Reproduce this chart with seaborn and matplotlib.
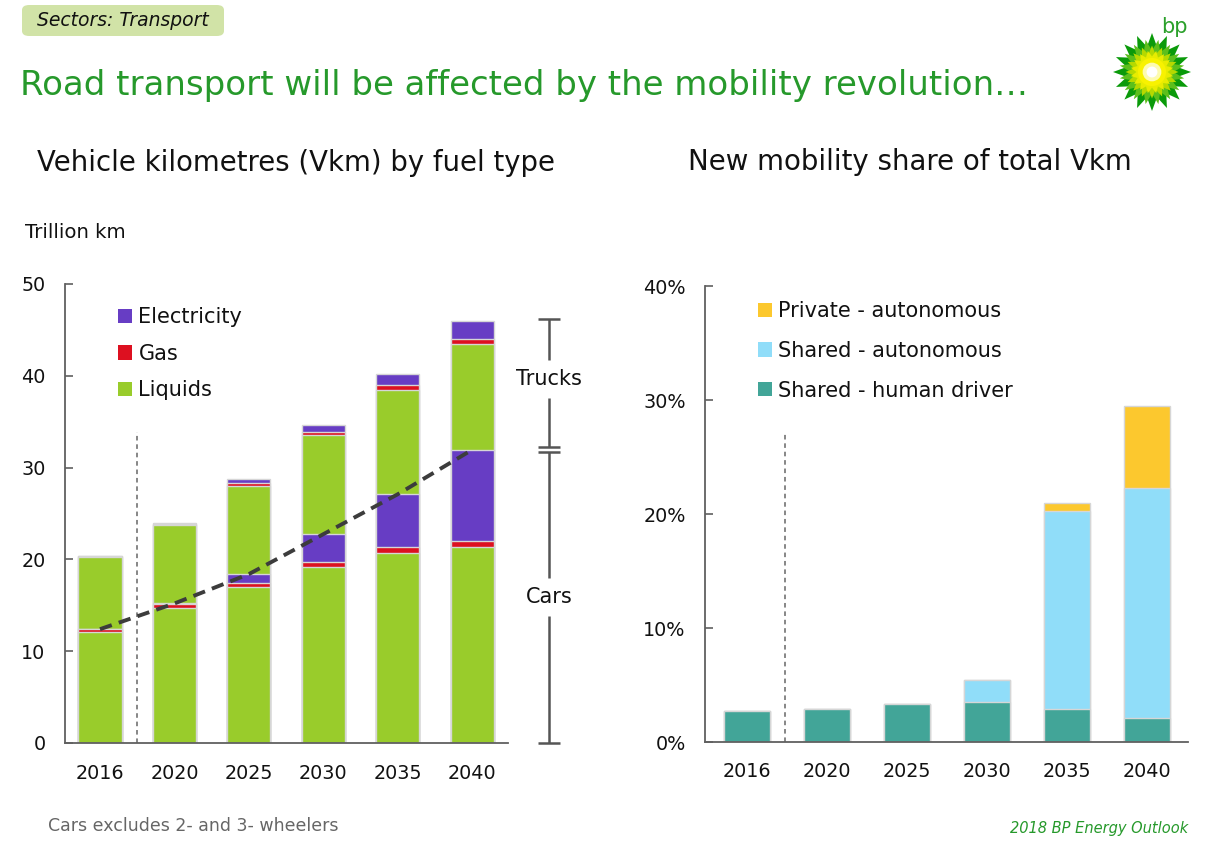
import numpy as np
import pandas as pd
import matplotlib
matplotlib.use('Agg')
import matplotlib.pyplot as plt
import seaborn as sns
from matplotlib.patches import Patch, FancyBboxPatch, Circle

# ---------------- data ----------------
years = ['2016', '2020', '2025', '2030', '2035', '2040']

# Vehicle km, trillion km
cars_liquids = [12.1, 14.7, 16.95, 19.2, 20.7, 21.4]
cars_gas = [0.3, 0.4, 0.5, 0.55, 0.6, 0.65]
cars_elec = [0.0, 0.1, 0.95, 3.0, 5.8, 9.9]
trucks_liquids = [7.85, 8.6, 9.6, 10.75, 11.4, 11.55]
trucks_gas = [0.1, 0.1, 0.35, 0.35, 0.45, 0.5]
trucks_elec = [0.05, 0.1, 0.45, 0.75, 1.25, 2.0]

# New mobility share of total Vkm, %
share_human = [2.75, 2.9, 3.35, 3.55, 2.9, 2.15]
share_shared_auto = [0, 0, 0, 1.9, 17.4, 20.15]
share_private_auto = [0, 0, 0, 0, 0.7, 7.2]

left_yticks = [0, 10, 20, 30, 40, 50]
right_yticks = [0, 10, 20, 30, 40]
right_yticklabels = ['0%', '10%', '20%', '30%', '40%']

left_legend = ['Electricity', 'Gas', 'Liquids']
right_legend = ['Private - autonomous', 'Shared - autonomous', 'Shared - human driver']

# ---------------- style ----------------
C_LIQ = '#99cc2b'
C_GAS = '#dd1020'
C_ELEC = '#673dc4'
C_HUMAN = '#42a598'
C_SHARED = '#90ddf9'
C_PRIV = '#fcc82e'
EDGE = '#d6d6d6'
SPINE = '#606060'
GREEN_TXT = '#26992b'
TXT = '#111111'

sns.set_theme(style='white')
plt.rcParams['font.family'] = ['DejaVu Sans']
plt.rcParams['text.color'] = TXT

W, H = 1210, 844
fig = plt.figure(figsize=(W / 100, H / 100), dpi=100)


def fx(x):
    return x / W


def fy(y):
    return 1 - y / H


TICK_FS = 13.8
LEG_FS = 15

# ---------------- left chart ----------------
axL = fig.add_axes([fx(65), fy(743), (508 - 65) / W, (743 - 284) / H])
layers = [cars_liquids, cars_gas, cars_elec, trucks_liquids, trucks_gas, trucks_elec]
colors = [C_LIQ, C_GAS, C_ELEC, C_LIQ, C_GAS, C_ELEC]
cum = np.cumsum(np.array(layers), axis=0)
for i in range(len(layers) - 1, -1, -1):
    df = pd.DataFrame({'year': years, 'v': cum[i]})
    sns.barplot(data=df, x='year', y='v', order=years, color=colors[i], saturation=1,
                width=0.58, edgecolor=EDGE, linewidth=1.0, errorbar=None, ax=axL)

car_total = cum[2]
tr = pd.DataFrame({'pos': np.arange(len(years)), 'v': car_total})
sns.lineplot(data=tr, x='pos', y='v', ax=axL, color='#3c3c3c', lw=2.8,
             linestyle=(0, (3.2, 1.9)), zorder=5)

axL.plot([0.5, 0.5], [0, 33.9], color='#666666', lw=1.1, linestyle=(0, (3, 2.5)))

axL.set_xlim(-0.47, 5.48)
axL.set_ylim(0, 50)
axL.set_yticks(left_yticks)
axL.set_xlabel('')
axL.set_ylabel('')
for s in ['top', 'right']:
    axL.spines[s].set_visible(False)
for s in ['left', 'bottom']:
    axL.spines[s].set_color(SPINE)
    axL.spines[s].set_linewidth(1.3)
axL.tick_params(axis='y', direction='in', length=6, width=1.2, color=SPINE, pad=14,
                labelsize=TICK_FS, labelcolor=TXT, left=True)
axL.tick_params(axis='x', length=0, pad=15, labelsize=TICK_FS, labelcolor=TXT)

hL = [Patch(facecolor=c, edgecolor='none') for c in [C_ELEC, C_GAS, C_LIQ]]
legL = axL.legend(hL, left_legend, loc='upper left', bbox_to_anchor=(fx(118), fy(307)),
                  bbox_transform=fig.transFigure, frameon=False, fontsize=LEG_FS,
                  handlelength=0.68, handleheight=0.68, handletextpad=0.3,
                  labelspacing=0.8, borderpad=0, borderaxespad=0)
for t in legL.get_texts():
    t.set_color(TXT)

# Trucks / Cars bracket
bx = 6.03
top = cum[-1][-1] + 0.2
ctop = car_total[-1]
kw = dict(color='#555555', lw=1.8, clip_on=False, solid_capstyle='butt')
cap = 0.15
axL.plot([bx - cap, bx + cap], [top, top], **kw)
axL.plot([bx, bx], [top, 41.7], **kw)
axL.plot([bx, bx], [37.6, ctop + 0.25], **kw)
axL.plot([bx - cap, bx + cap], [ctop + 0.25, ctop + 0.25], **kw)
axL.plot([bx - cap, bx + cap], [ctop - 0.2, ctop - 0.2], **kw)
axL.plot([bx, bx], [ctop - 0.2, 18.0], **kw)
axL.plot([bx, bx], [13.8, 0], **kw)
axL.plot([bx - cap, bx + cap], [0, 0], **kw)
axL.text(bx, 39.6, 'Trucks', ha='center', va='center', fontsize=LEG_FS, color=TXT)
axL.text(bx, 15.9, 'Cars', ha='center', va='center', fontsize=LEG_FS, color=TXT)

# ---------------- right chart ----------------
axR = fig.add_axes([fx(705), fy(742.3), (1188 - 705) / W, 456 / H])
rl = [share_human, share_shared_auto, share_private_auto]
rc = [C_HUMAN, C_SHARED, C_PRIV]
rcum = np.cumsum(np.array(rl), axis=0)
for i in range(len(rl) - 1, -1, -1):
    df = pd.DataFrame({'year': years, 'v': rcum[i]})
    sns.barplot(data=df, x='year', y='v', order=years, color=rc[i], saturation=1,
                width=0.58, edgecolor=EDGE, linewidth=1.0, errorbar=None, ax=axR)

axR.plot([0.47, 0.47], [0, 27.2], color='#666666', lw=1.1, linestyle=(0, (3, 2.5)))
axR.set_xlim(-0.525, 5.51)
axR.set_ylim(0, 40)
axR.set_yticks(right_yticks)
axR.set_yticklabels(right_yticklabels)
axR.set_xlabel('')
axR.set_ylabel('')
for s in ['top', 'right']:
    axR.spines[s].set_visible(False)
for s in ['left', 'bottom']:
    axR.spines[s].set_color(SPINE)
    axR.spines[s].set_linewidth(1.3)
axR.tick_params(axis='y', direction='in', length=6, width=1.2, color=SPINE, pad=14,
                labelsize=TICK_FS, labelcolor=TXT, left=True)
axR.tick_params(axis='x', length=0, pad=14, labelsize=TICK_FS, labelcolor=TXT)

hR = [Patch(facecolor=c, edgecolor='none') for c in [C_PRIV, C_SHARED, C_HUMAN]]
legR = axR.legend(hR, right_legend, loc='upper left', bbox_to_anchor=(fx(758), fy(301)),
                  bbox_transform=fig.transFigure, frameon=False, fontsize=LEG_FS,
                  handlelength=0.68, handleheight=0.68, handletextpad=0.3,
                  labelspacing=0.95, borderpad=0, borderaxespad=0)
for t in legR.get_texts():
    t.set_color(TXT)

# ---------------- texts ----------------
badge = FancyBboxPatch((fx(22), fy(36)), fx(224) - fx(22), fy(5) - fy(36),
                       boxstyle='round,pad=0,rounding_size=0.006',
                       transform=fig.transFigure, facecolor='#d1e3a7',
                       edgecolor='none')
fig.patches.append(badge)
fig.text(fx(123), fy(20.5), 'Sectors: Transport', ha='center', va='center',
         fontsize=13.5, style='italic', color=TXT)
fig.text(fx(20), fy(85), 'Road transport will be affected by the mobility revolution\u2026',
         ha='left', va='center', fontsize=24.5, color=GREEN_TXT)
fig.text(fx(37), fy(163), 'Vehicle kilometres (Vkm) by fuel type', ha='left', va='center',
         fontsize=19.8, color=TXT)
fig.text(fx(688), fy(162), 'New mobility share of total Vkm', ha='left', va='center',
         fontsize=19.9, color=TXT)
fig.text(fx(25), fy(233), 'Trillion km', ha='left', va='center', fontsize=14.2, color=TXT)
fig.text(fx(48), fy(826), 'Cars excludes 2- and 3- wheelers', ha='left', va='center',
         fontsize=12.5, color='#666666')
fig.text(fx(1188), fy(829), '2018 BP Energy Outlook', ha='right', va='center',
         fontsize=10.5, style='italic', color=GREEN_TXT)

# ---------------- bp logo ----------------
axLogo = fig.add_axes([fx(1113), fy(111), 78 / W, 78 / H])
axLogo.set_xlim(-1, 1)
axLogo.set_ylim(-1, 1)
axLogo.axis('off')


def star(n, r_out, r_in, rot):
    ang = np.linspace(0, 2 * np.pi, 2 * n, endpoint=False) + rot
    r = np.where(np.arange(2 * n) % 2 == 0, r_out, r_in)
    return r * np.cos(ang), r * np.sin(ang)


for (n, ro, ri, rot, c) in [(16, 1.0, 0.66, np.pi / 2, '#0a9a0a'),
                            (16, 0.84, 0.55, np.pi / 2 + np.pi / 16, '#5cbf1c'),
                            (16, 0.68, 0.46, np.pi / 2, '#b6d900'),
                            (16, 0.55, 0.40, np.pi / 2 + np.pi / 16, '#e8ec00')]:
    xs, ys = star(n, ro, ri, rot)
    axLogo.fill(xs, ys, color=c, lw=0)
axLogo.add_patch(Circle((0, 0), 0.36, color='#f8f200', lw=0))
axLogo.add_patch(Circle((0, 0), 0.24, color='#fdfbb0', lw=0))
axLogo.add_patch(Circle((0, 0), 0.14, color='white', lw=0))
fig.text(fx(1174), fy(27), 'bp', ha='center', va='center', fontsize=15, color='#2ba02b')

fig.savefig('out.png', dpi=100)
